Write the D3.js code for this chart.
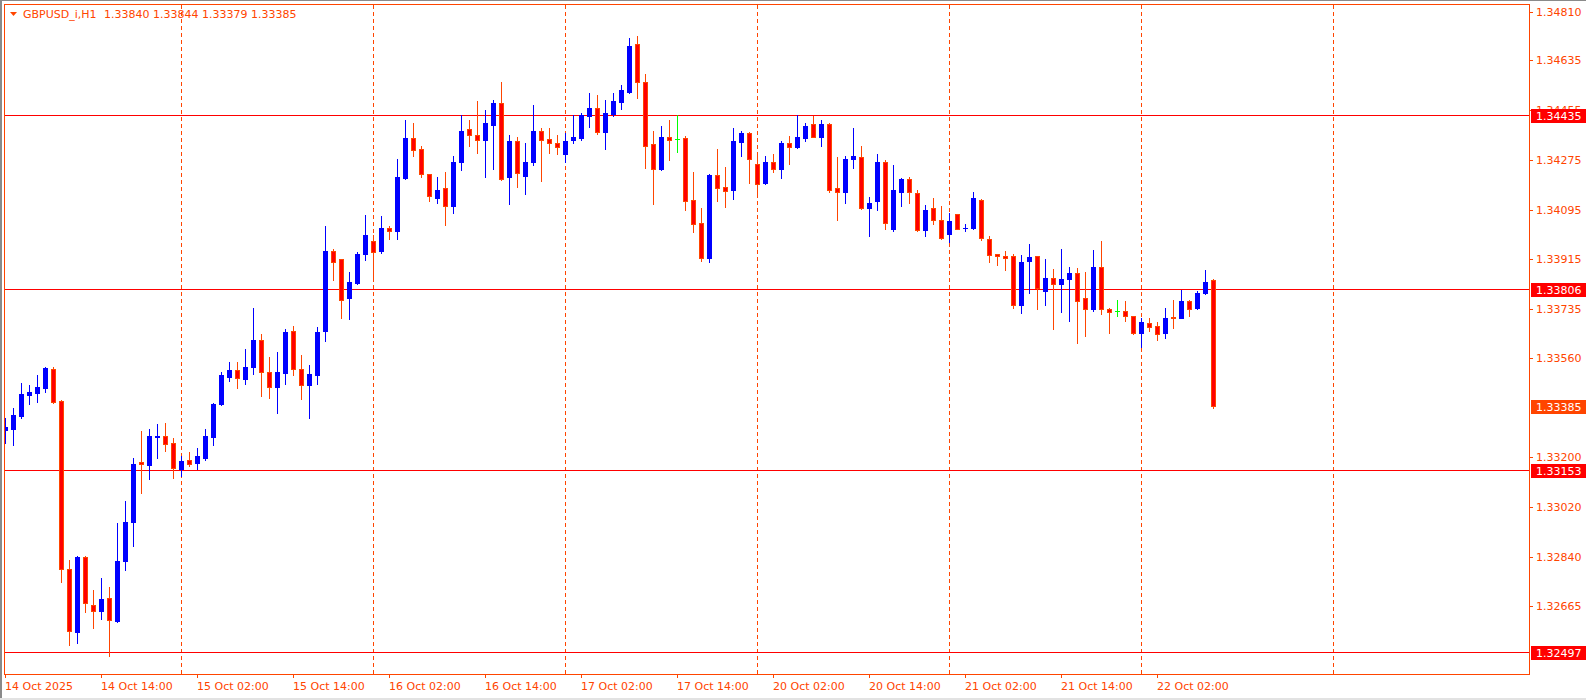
<!DOCTYPE html>
<html><head><meta charset="utf-8">
<script src="https://cdn.jsdelivr.net/npm/d3@7"></script>
<style>
html,body{margin:0;padding:0;background:#fff;overflow:hidden}
svg{display:block}
text{font-family:"DejaVu Sans",sans-serif;font-size:11px}
</style></head><body>
<svg id="c" width="1586" height="700"></svg>
<script>
// ---- data (GBPUSD_i, H1) ----
const opens = [1.33299,1.33302,1.33349,1.33425,1.33432,1.33450,1.33518,1.33402,1.32798,1.32569,
1.32839,1.32668,1.32645,1.32691,1.32609,1.32826,1.32966,1.33182,1.33172,1.33274,
1.33276,1.33251,1.33157,1.33189,1.33179,1.33196,1.33273,1.33391,1.33490,1.33514,
1.33483,1.33526,1.33622,1.33507,1.33454,1.33503,1.33658,1.33518,1.33461,1.33497,
1.33656,1.33944,1.33915,1.33774,1.33828,1.33933,1.33982,1.33944,1.34027,1.34019,
1.34208,1.34355,1.34312,1.34225,1.34136,1.34171,1.34107,1.34266,1.34384,1.34365,
1.34345,1.34400,1.34478,1.34212,1.34341,1.34215,1.34266,1.34380,1.34348,1.34334,
1.34295,1.34345,1.34353,1.34432,1.34463,1.34374,1.34439,1.34483,1.34519,1.34691,
1.34554,1.34330,1.34241,1.34358,1.34350,1.34352,1.34128,1.34045,1.33919,1.34218,
1.34175,1.34165,1.34338,1.34373,1.34258,1.34190,1.34268,1.34241,1.34334,1.34320,
1.34353,1.34402,1.34356,1.34402,1.34174,1.34158,1.34277,1.34285,1.34100,1.34125,
1.34265,1.34024,1.34158,1.34204,1.34156,1.34020,1.34102,1.34056,1.34006,1.34077,
1.34027,1.34028,1.34131,1.33987,1.33933,1.33928,1.33926,1.33750,1.33909,1.33926,
1.33800,1.33846,1.33826,1.33844,1.33864,1.33774,1.33734,1.33889,1.33734,1.33727,
1.33727,1.33712,1.33649,1.33684,1.33676,1.33649,1.33706,1.33703,1.33763,1.33738,
1.33793,1.33840];
const highs = [1.33341,1.33377,1.33467,1.33460,1.33496,1.33528,1.33525,1.33406,1.32829,1.32842,
1.32843,1.32720,1.32764,1.32732,1.32962,1.33041,1.33196,1.33294,1.33301,1.33319,
1.33323,1.33269,1.33204,1.33218,1.33232,1.33301,1.33398,1.33510,1.33543,1.33543,
1.33593,1.33738,1.33644,1.33561,1.33579,1.33662,1.33674,1.33568,1.33532,1.33669,
1.34037,1.33952,1.33915,1.33871,1.33940,1.34074,1.34002,1.34070,1.34037,1.34276,
1.34417,1.34406,1.34323,1.34225,1.34214,1.34232,1.34287,1.34438,1.34417,1.34485,
1.34456,1.34492,1.34554,1.34365,1.34358,1.34334,1.34474,1.34388,1.34388,1.34365,
1.34370,1.34438,1.34442,1.34514,1.34507,1.34492,1.34514,1.34543,1.34716,1.34720,
1.34583,1.34377,1.34395,1.34420,1.34438,1.34362,1.34229,1.34099,1.34225,1.34312,
1.34250,1.34391,1.34377,1.34375,1.34297,1.34287,1.34297,1.34342,1.34362,1.34436,
1.34409,1.34431,1.34417,1.34406,1.34283,1.34287,1.34391,1.34323,1.34139,1.34297,
1.34272,1.34254,1.34207,1.34211,1.34164,1.34110,1.34135,1.34106,1.34084,1.34078,
1.34042,1.34157,1.34132,1.34001,1.33936,1.33945,1.33936,1.33929,1.33972,1.33926,
1.33918,1.33879,1.33951,1.33886,1.33882,1.33871,1.33947,1.33983,1.33738,1.33770,
1.33763,1.33712,1.33702,1.33702,1.33687,1.33738,1.33767,1.33806,1.33770,1.33799,
1.33875,1.33844];
const lows = [1.33252,1.33243,1.33341,1.33392,1.33400,1.33436,1.33397,1.32750,1.32522,1.32530,
1.32642,1.32584,1.32616,1.32483,1.32605,1.32793,1.32880,1.33071,1.33122,1.33197,
1.33223,1.33125,1.33131,1.33169,1.33157,1.33190,1.33244,1.33388,1.33474,1.33450,
1.33465,1.33501,1.33421,1.33414,1.33360,1.33465,1.33497,1.33410,1.33342,1.33465,
1.33620,1.33839,1.33705,1.33698,1.33826,1.33911,1.33853,1.33939,1.33987,1.33987,
1.34206,1.34287,1.34214,1.34125,1.34118,1.34038,1.34082,1.34237,1.34324,1.34298,
1.34212,1.34241,1.34201,1.34114,1.34176,1.34151,1.34255,1.34197,1.34298,1.34295,
1.34266,1.34335,1.34345,1.34392,1.34367,1.34313,1.34432,1.34457,1.34517,1.34497,
1.34244,1.34114,1.34237,1.34273,1.34302,1.34095,1.34013,1.33909,1.33905,1.34125,
1.34103,1.34132,1.34288,1.34190,1.34154,1.34188,1.34230,1.34208,1.34259,1.34318,
1.34342,1.34357,1.34324,1.34158,1.34057,1.34118,1.34244,1.34098,1.33999,1.34093,
1.34024,1.34017,1.34107,1.34117,1.34017,1.33999,1.34042,1.33990,1.33977,1.34023,
1.34017,1.34026,1.33984,1.33905,1.33894,1.33876,1.33739,1.33721,1.33793,1.33735,
1.33750,1.33663,1.33724,1.33692,1.33613,1.33640,1.33727,1.33717,1.33649,1.33710,
1.33692,1.33645,1.33598,1.33656,1.33623,1.33631,1.33667,1.33702,1.33710,1.33734,
1.33789,1.33379];
const closes = [1.33309,1.33352,1.33427,1.33435,1.33453,1.33521,1.33401,1.32798,1.32573,1.32839,
1.32675,1.32645,1.32687,1.32613,1.32825,1.32965,1.33175,1.33175,1.33276,1.33276,
1.33249,1.33161,1.33186,1.33176,1.33204,1.33276,1.33391,1.33496,1.33514,1.33486,
1.33528,1.33622,1.33508,1.33454,1.33510,1.33651,1.33519,1.33461,1.33500,1.33651,
1.33944,1.33905,1.33770,1.33833,1.33936,1.34002,1.33941,1.34027,1.34017,1.34211,
1.34352,1.34309,1.34222,1.34143,1.34167,1.34107,1.34268,1.34380,1.34363,1.34345,
1.34406,1.34478,1.34205,1.34341,1.34226,1.34268,1.34380,1.34345,1.34335,1.34320,
1.34344,1.34358,1.34435,1.34460,1.34374,1.34442,1.34485,1.34525,1.34684,1.34555,
1.34324,1.34241,1.34358,1.34345,1.34350,1.34125,1.34044,1.33919,1.34218,1.34172,
1.34161,1.34341,1.34373,1.34277,1.34187,1.34268,1.34241,1.34335,1.34320,1.34358,
1.34398,1.34358,1.34402,1.34165,1.34158,1.34276,1.34287,1.34100,1.34117,1.34265,
1.34047,1.34167,1.34204,1.34158,1.34020,1.34095,1.34057,1.33992,1.34052,1.34024,
1.34029,1.34135,1.33992,1.33930,1.33927,1.33919,1.33750,1.33904,1.33922,1.33810,
1.33846,1.33826,1.33843,1.33864,1.33766,1.33735,1.33886,1.33735,1.33726,1.33727,
1.33711,1.33649,1.33687,1.33670,1.33645,1.33705,1.33704,1.33763,1.33735,1.33792,
1.33835,1.33385];

const symbolLabel = "GBPUSD_i,H1";
const priceTicks = [1.34810,1.34635,1.34455,1.34275,1.34095,1.33915,1.33735,1.33560,1.33200,1.33020,1.32840,1.32665];
const levelLines = [1.34435,1.33806,1.33153,1.32497];
const timeLabels = ["14 Oct 2025","14 Oct 14:00","15 Oct 02:00","15 Oct 14:00","16 Oct 02:00","16 Oct 14:00",
  "17 Oct 02:00","17 Oct 14:00","20 Oct 02:00","20 Oct 14:00","21 Oct 02:00","21 Oct 14:00","22 Oct 02:00"];
const timeLabelBars = [0,12,24,36,48,60,72,84,96,108,120,132,144];
const dayStartBars = [22,46,70,94,118,142,166];

// ---- drawing ----
(function(){
const W = 1586, H = 700;
const OR = "#FF4500", BULL = "#0000FF", BEARF = "#FF0000", DOJI = "#00FF00";
const svg = d3.select("#c").attr("shape-rendering","crispEdges");
const pL = 4, pR = 1529, pT = 4, pB = 674;

const x = d3.scaleLinear().domain([0, 1]).range([5, 13]);
const y = d3.scaleLinear().domain([1.32665, 1.34810]).range([605.5, 11.5]);
const fmt = d3.format(".5f");

svg.append("rect").attr("width",W).attr("height",H).attr("fill","#fff");
svg.append("rect").attr("x",0).attr("y",0).attr("width",2).attr("height",H).attr("fill","#8a8a8a");
svg.append("rect").attr("x",0).attr("y",0).attr("width",W).attr("height",1).attr("fill","#8a8a8a");
svg.append("rect").attr("x",0).attr("y",698).attr("width",W).attr("height",2).attr("fill","#e2e2e2");

svg.append("defs").append("clipPath").attr("id","plot")
  .append("rect").attr("x",pL+1).attr("y",pT+1).attr("width",pR-pL-1).attr("height",pB-pT-1);

svg.append("g").selectAll("line").data(dayStartBars).join("line")
  .attr("x1",d=>x(d)+0.5).attr("x2",d=>x(d)+0.5).attr("y1",pT+1).attr("y2",pB)
  .attr("stroke",OR).attr("stroke-width",1).attr("stroke-dasharray","4,3");

svg.append("g").selectAll("line").data(levelLines).join("line")
  .attr("x1",pL).attr("x2",pR).attr("y1",d=>Math.floor(y(d))+0.5).attr("y2",d=>Math.floor(y(d))+0.5)
  .attr("stroke","#FF0000").attr("stroke-width",1);

const g = svg.append("g").attr("clip-path","url(#plot)");
d3.range(opens.length).forEach(i => {
  const px = Math.round(x(i));
  const o = opens[i], c = closes[i];
  const doji = o === c;
  const bull = c > o;
  const col = doji ? DOJI : (bull ? BULL : OR);
  const yh = Math.round(y(highs[i])), yl = Math.round(y(lows[i]));
  g.append("rect").attr("x",px).attr("y",yh).attr("width",1).attr("height",Math.max(1,yl-yh+1)).attr("fill",col);
  const t = Math.round(Math.min(y(o),y(c))), b = Math.round(Math.max(y(o),y(c)));
  if (doji || b - t < 1) {
    g.append("rect").attr("x",px-2).attr("y",t).attr("width",5).attr("height",1).attr("fill",col);
  } else if (bull) {
    g.append("rect").attr("x",px-2).attr("y",t).attr("width",5).attr("height",b-t+1).attr("fill",BULL);
  } else {
    g.append("rect").attr("x",px-2).attr("y",t).attr("width",5).attr("height",b-t+1).attr("fill",OR);
    if (b - t > 1) g.append("rect").attr("x",px-1).attr("y",t+1).attr("width",3).attr("height",b-t-1).attr("fill",BEARF);
  }
});

svg.append("rect").attr("x",pL+0.5).attr("y",pT+0.5).attr("width",pR-pL).attr("height",pB-pT)
  .attr("fill","none").attr("stroke",OR).attr("stroke-width",1);

const pa = svg.append("g");
pa.selectAll("rect.tk").data(priceTicks).join("rect").attr("class","tk")
  .attr("x",pR+1).attr("y",d=>Math.round(y(d))).attr("width",3).attr("height",1).attr("fill",OR);
pa.selectAll("text").data(priceTicks).join("text")
  .attr("x",1536).attr("y",d=>Math.round(y(d))+4).attr("fill",OR).text(d=>fmt(d));

const lv = svg.append("g");
levelLines.forEach(v => {
  const yy = Math.floor(y(v));
  lv.append("rect").attr("x",1531).attr("y",yy-6).attr("width",55).attr("height",14).attr("fill","#FF0000");
  lv.append("text").attr("x",1536).attr("y",yy+5).attr("fill","#fff").text(fmt(v));
});
{
  const v = closes[closes.length-1];
  const yy = Math.round(y(v));
  lv.append("rect").attr("x",1531).attr("y",yy-6).attr("width",55).attr("height",14).attr("fill",OR);
  lv.append("text").attr("x",1536).attr("y",yy+5).attr("fill","#fff").text(fmt(v));
}

const ta = svg.append("g");
ta.selectAll("rect").data(timeLabelBars).join("rect")
  .attr("x",d=>Math.round(x(d))).attr("y",pB+1).attr("width",1).attr("height",3).attr("fill",OR);
ta.selectAll("text").data(timeLabels).join("text")
  .attr("x",(d,i)=>Math.round(x(timeLabelBars[i]))).attr("y",690).attr("fill",OR).text(d=>d);

const last = opens.length - 1;
svg.append("path").attr("d","M10,12 L17,12 L13.5,16 Z").attr("fill",OR).attr("shape-rendering","auto");
svg.append("text").attr("x",23).attr("y",17.5).attr("fill",OR).text(symbolLabel);
svg.append("text").attr("x",104).attr("y",17.5).attr("fill",OR)
  .text([opens[last],highs[last],lows[last],closes[last]].map(fmt).join(" "));
})();
</script>
</body></html>
